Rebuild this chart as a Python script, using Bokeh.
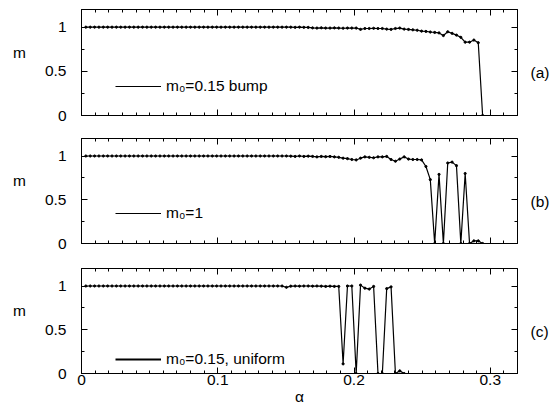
from bokeh.plotting import figure
from bokeh.models import (Range1d, FixedTicker, LinearAxis, Legend,
                          LegendItem, ColumnDataSource)
from bokeh.layouts import column
from bokeh.embed import file_html
from bokeh.resources import INLINE
from bokeh.core.properties import value

FONT = "Liberation Sans"
FS = "15.5px"

# storage capacity alpha (sampled grid)
alpha = [
    0.0032, 0.0064, 0.0096, 0.0128, 0.016, 0.0192, 0.0224, 0.0256, 0.0288, 0.032,
    0.0352, 0.0384, 0.0416, 0.0448, 0.048, 0.0512, 0.0544, 0.0576, 0.0608, 0.064,
    0.0672, 0.0704, 0.0736, 0.0768, 0.08, 0.0832, 0.0864, 0.0896, 0.0928, 0.096,
    0.0992, 0.1024, 0.1056, 0.1088, 0.112, 0.1152, 0.1184, 0.1216, 0.1248, 0.128,
    0.1312, 0.1344, 0.1376, 0.1408, 0.144, 0.1472, 0.1504, 0.1536, 0.1568, 0.16,
    0.1632, 0.1664, 0.1696, 0.1728, 0.176, 0.1792, 0.1824, 0.1856, 0.1888, 0.192,
    0.1952, 0.1984, 0.2016, 0.2048, 0.208, 0.2112, 0.2144, 0.2176, 0.2208, 0.224,
    0.2272, 0.2304, 0.2336, 0.2368, 0.24, 0.2432, 0.2464, 0.2496, 0.2528, 0.256,
    0.2592, 0.2624, 0.2656, 0.2688, 0.272, 0.2752, 0.2784, 0.2816, 0.2848, 0.288,
    0.2912, 0.2944,
]

# (a) m0 = 0.15 bump
m_bump = [
    1.0, 1.0, 1.0, 1.0, 1.0, 1.0, 1.0, 1.0, 1.0, 1.0,
    1.0, 1.0, 1.0, 1.0, 1.0, 1.0, 1.0, 1.0, 1.0, 1.0,
    1.0, 1.0, 1.0, 1.0, 1.0, 1.0, 1.0, 1.0, 1.0, 1.0,
    1.0, 1.0, 1.0, 1.0, 1.0, 1.0, 1.0, 1.0, 1.0, 1.0,
    1.0, 1.0, 1.0, 1.0, 1.0, 1.0, 1.0, 1.0, 0.998, 1.0,
    0.998, 0.997, 0.992, 0.99, 0.993, 0.99, 0.99, 0.992, 0.99, 0.988,
    0.99, 0.99, 0.99, 0.975, 0.985, 0.985, 0.987, 0.985, 0.985, 0.978,
    0.975, 0.985, 0.99, 0.978, 0.974, 0.97, 0.965, 0.955, 0.952, 0.945,
    0.94, 0.935, 0.905, 0.948, 0.93, 0.91, 0.885, 0.83, 0.83, 0.854,
    0.824, 0.0,
]

# (b) m0 = 1
m_one = [
    1.0, 1.0, 1.0, 1.0, 1.0, 1.0, 1.0, 1.0, 1.0, 1.0,
    1.0, 1.0, 1.0, 1.0, 1.0, 1.0, 1.0, 1.0, 1.0, 1.0,
    1.0, 1.0, 1.0, 1.0, 1.0, 1.0, 1.0, 1.0, 1.0, 1.0,
    1.0, 1.0, 1.0, 1.0, 1.0, 1.0, 1.0, 1.0, 1.0, 1.0,
    1.0, 1.0, 1.0, 1.0, 1.0, 1.0, 1.0, 0.998, 0.995, 1.0,
    0.995, 0.998, 0.995, 0.99, 0.995, 0.992, 0.995, 0.99, 0.985, 0.975,
    0.97, 0.96, 0.955, 0.975, 0.99, 0.985, 0.98, 0.99, 0.99, 0.995,
    0.96, 0.94, 0.965, 0.99, 0.965, 0.96, 0.96, 0.955, 0.88, 0.73,
    0.0, 0.79, 0.0, 0.92, 0.93, 0.89, 0.0, 0.80, 0.0, 0.03,
    0.03, 0.0,
]

# (c) m0 = 0.15, uniform
m_uniform = [
    1.0, 1.0, 1.0, 1.0, 1.0, 1.0, 1.0, 1.0, 1.0, 1.0,
    1.0, 1.0, 1.0, 1.0, 1.0, 1.0, 1.0, 1.0, 1.0, 1.0,
    1.0, 1.0, 1.0, 1.0, 1.0, 1.0, 1.0, 1.0, 1.0, 1.0,
    1.0, 1.0, 1.0, 1.0, 1.0, 1.0, 1.0, 1.0, 1.0, 1.0,
    1.0, 1.0, 1.0, 1.0, 1.0, 1.0, 0.985, 0.998, 1.0, 0.998,
    1.0, 1.0, 0.998, 1.0, 0.998, 0.995, 0.998, 0.995, 0.995, 0.11,
    1.0, 1.0, 0.0, 1.01, 0.975, 0.965, 0.995, 0.0, 0.0, 0.97,
    0.99, 0.0, 0.03, 0.0,
]

legend_labels = ["m\u2080=0.15 bump", "m\u2080=1", "m\u2080=0.15, uniform"]
panel_tags = ["(a)", "(b)", "(c)"]
x_major = [0.0, 0.1, 0.2, 0.3]
x_major_labels = ["0", "0.1", "0.2", "0.3"]
x_minor = [0.01, 0.02, 0.03, 0.04, 0.05, 0.06, 0.07, 0.08, 0.09,
           0.11, 0.12, 0.13, 0.14, 0.15, 0.16, 0.17, 0.18, 0.19,
           0.21, 0.22, 0.23, 0.24, 0.25, 0.26, 0.27, 0.28, 0.29,
           0.31]
y_major = [0.0, 0.5, 1.0]
y_major_labels = ["0", "0.5", "1"]
y_minor = [0.25, 0.75]


def style_axis(ax, major, minor, labels=None, standoff=0):
    ax.ticker = FixedTicker(ticks=major, minor_ticks=minor)
    ax.axis_line_color = "black"
    ax.axis_line_width = 1
    ax.major_tick_line_color = "black"
    ax.minor_tick_line_color = "black"
    ax.major_tick_in = 6
    ax.major_tick_out = 0
    ax.minor_tick_in = 3
    ax.minor_tick_out = 0
    ax.major_label_standoff = standoff
    ax.axis_label_text_font = FONT
    ax.axis_label_text_font_size = FS
    ax.axis_label_text_font_style = "normal"
    ax.axis_label_text_color = "black"
    if labels is None:
        ax.major_label_text_font_size = "0px"
        ax.major_label_text_color = None
        ax.major_label_text_alpha = 0
    else:
        ax.major_label_overrides = {t: l for t, l in zip(major, labels)}
        ax.major_label_text_font = FONT
        ax.major_label_text_font_size = FS
        ax.major_label_text_color = "black"


def make_panel(m, tag, leg_text, leg_y, leg_w, top, bottom, fh, show_x):
    p = figure(frame_width=436, frame_height=fh,
               min_border_left=81, min_border_right=36,
               min_border_top=top, min_border_bottom=bottom,
               x_range=Range1d(0, 0.32), y_range=Range1d(0, 1.2),
               output_backend="svg", toolbar_location=None)
    p.grid.visible = False
    p.outline_line_color = "black"
    p.outline_line_width = 1
    p.background_fill_color = "white"
    p.border_fill_color = "white"

    src = ColumnDataSource(dict(x=alpha[:len(m)], y=m))
    p.line("x", "y", source=src, line_color="black", line_width=1.2)
    p.scatter("x", "y", source=src, size=2.2, color="black")
    # muted copy of the curve: invisible in the frame, used only as legend key
    key = p.line("x", "y", source=src, line_color="black", line_width=leg_w,
                 muted_line_alpha=0)
    key.muted = True

    bottom_ax = p.below[0]
    left_ax = p.left[0]
    style_axis(bottom_ax, x_major, x_minor,
               x_major_labels if show_x else None, 1 if show_x else 0)
    style_axis(left_ax, y_major, y_minor, y_major_labels, 15)
    left_ax.axis_label = "m\n\u00a0"
    left_ax.axis_label_orientation = "horizontal"
    left_ax.axis_label_standoff = 16

    top_ax = LinearAxis()
    style_axis(top_ax, x_major, x_minor)
    p.add_layout(top_ax, "above")
    right_ax = LinearAxis()
    style_axis(right_ax, y_major, y_minor)
    right_ax.axis_label = "\u00a0\n" + tag
    right_ax.axis_label_orientation = "horizontal"
    right_ax.axis_label_standoff = 13
    p.add_layout(right_ax, "right")

    leg = Legend(items=[LegendItem(label=value(leg_text), renderers=[key])],
                 location=(34, leg_y), padding=0, margin=0, spacing=0,
                 glyph_width=46, glyph_height=16, label_height=16,
                 label_standoff=5, label_text_font=FONT,
                 label_text_font_size=FS, label_text_color="black",
                 border_line_alpha=0, background_fill_alpha=0,
                 click_policy="none")
    p.add_layout(leg)
    return p, bottom_ax


pa, _ = make_panel(m_bump, panel_tags[0], legend_labels[0], 20, 1.2, 9, 11, 106, False)
pb, _ = make_panel(m_one, panel_tags[1], legend_labels[1], 21, 1.2, 12, 12, 105, False)
pc, pc_bottom = make_panel(m_uniform, panel_tags[2], legend_labels[2], 5, 2.0, 13, 39, 105, True)
pc_bottom.axis_label = "\u03b1"
pc_bottom.axis_label_standoff = 0

layout = column(pa, pb, pc)
open("out.html", "w").write(file_html(layout, INLINE))
